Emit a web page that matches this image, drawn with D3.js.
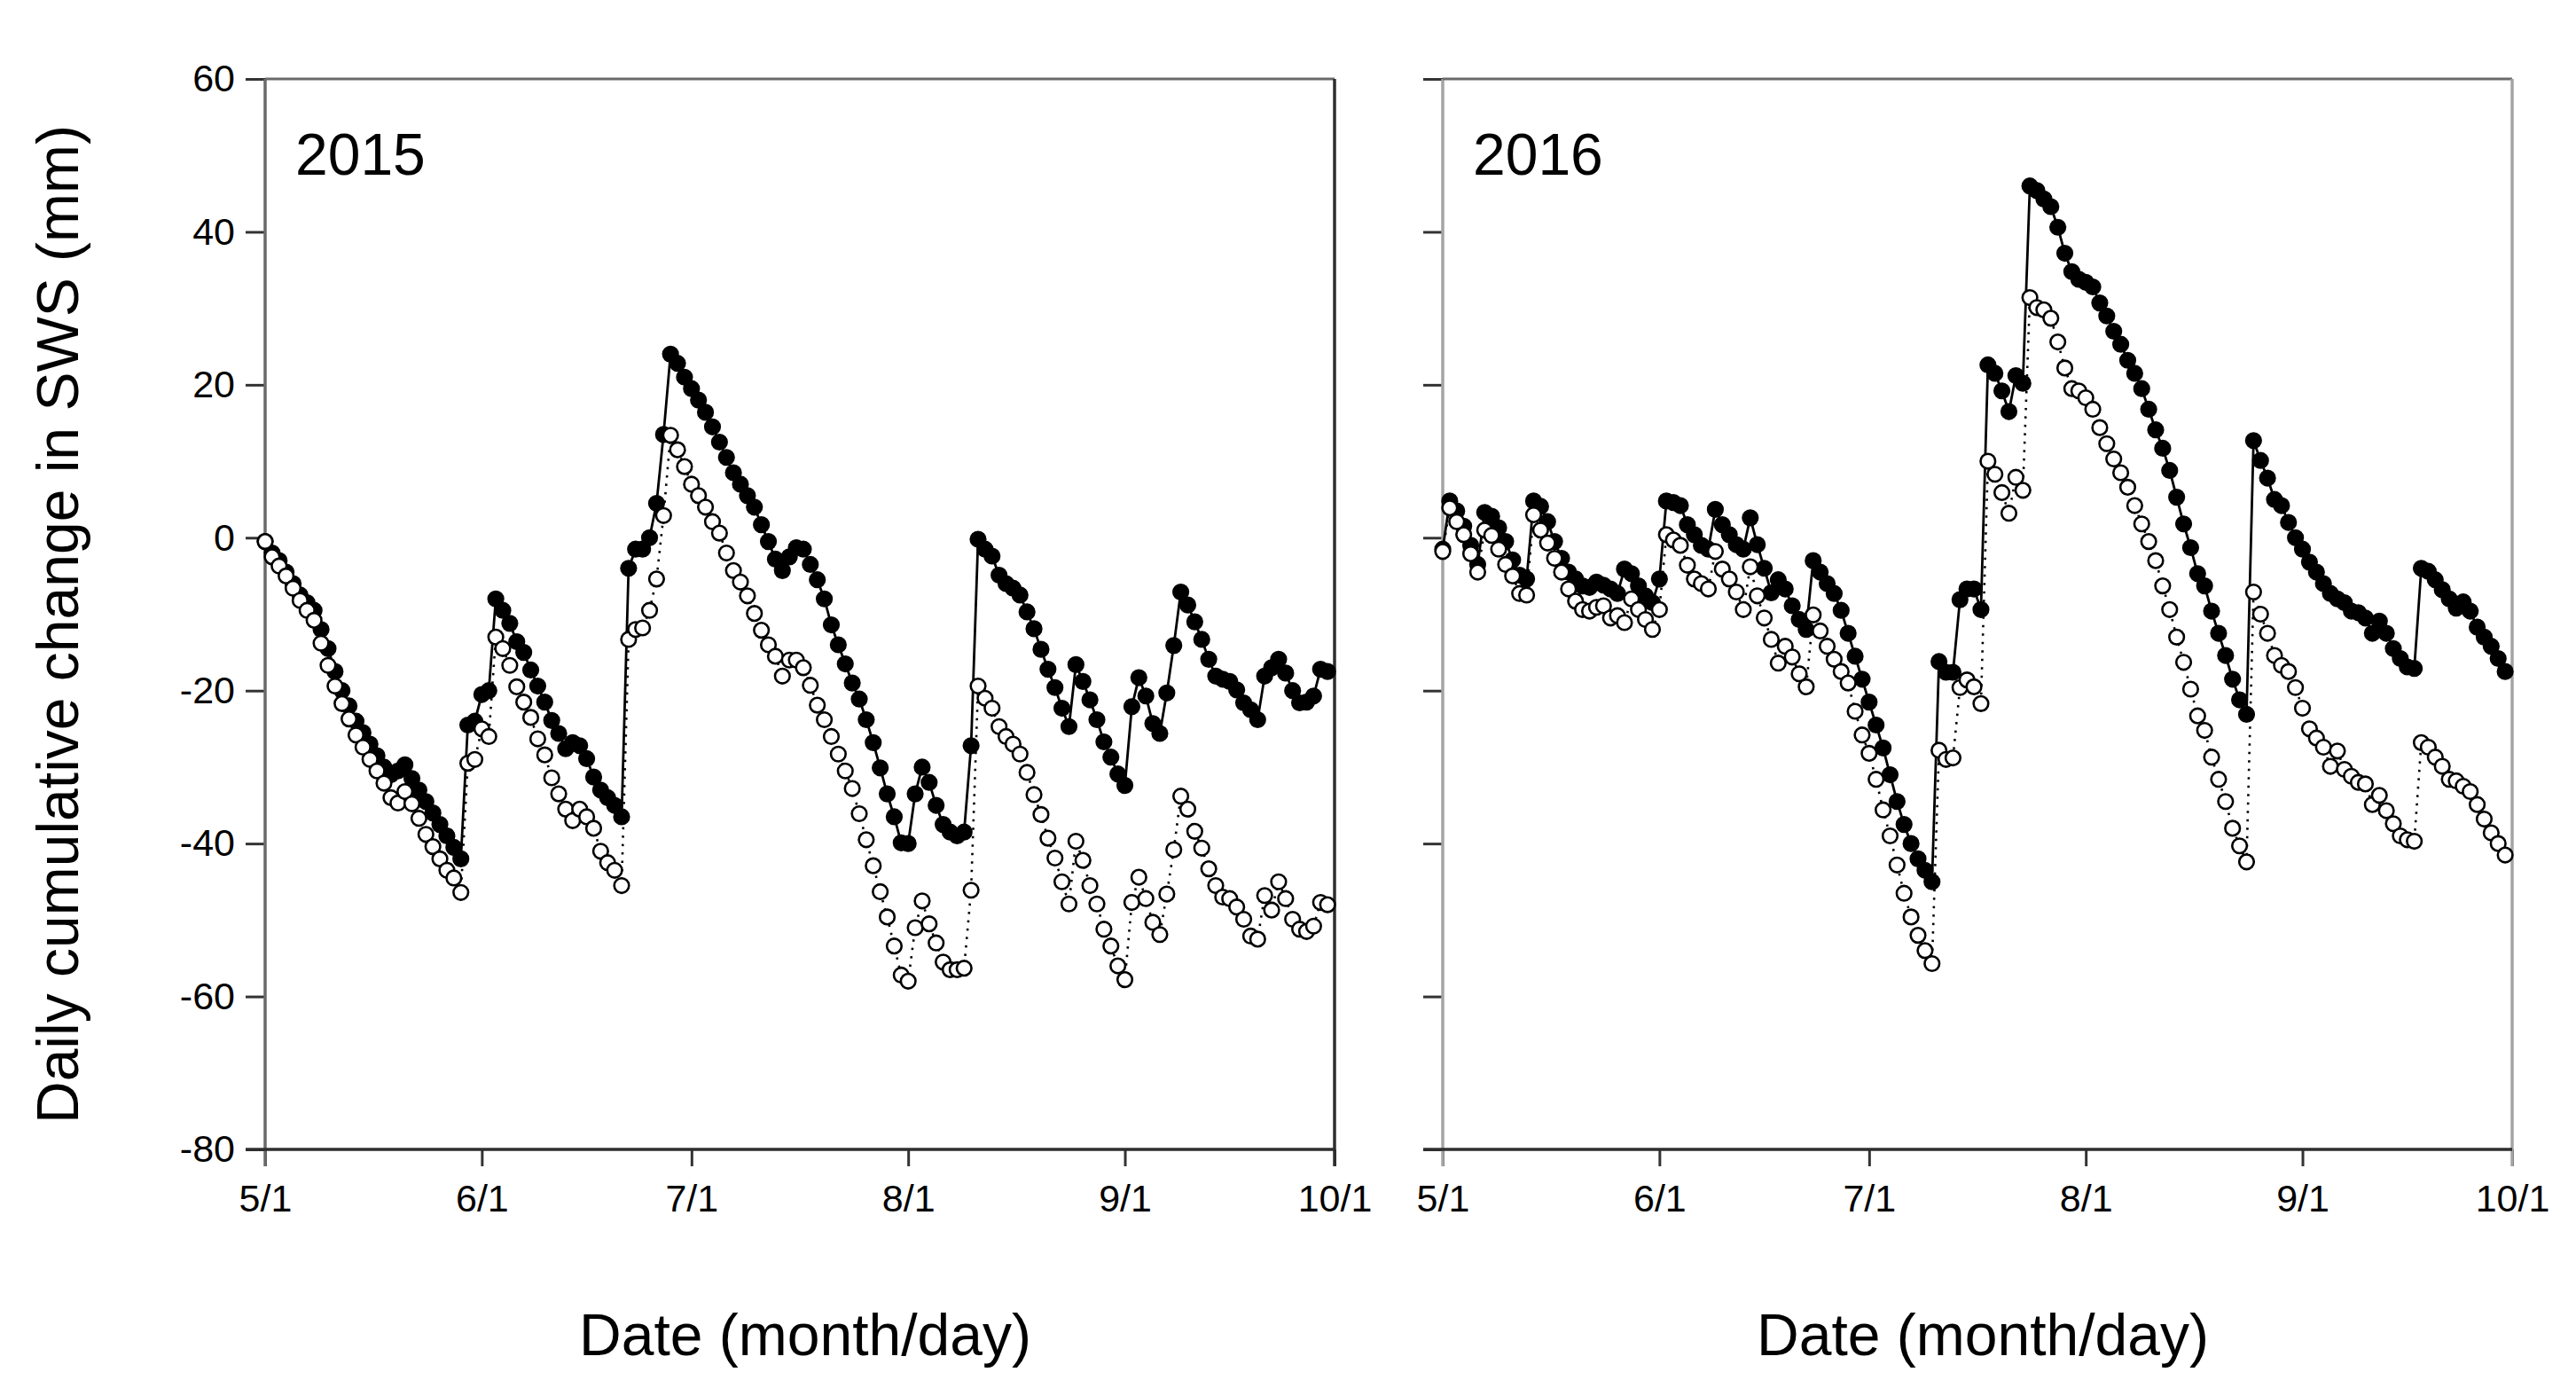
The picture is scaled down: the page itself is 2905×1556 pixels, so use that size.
<!DOCTYPE html>
<html><head><meta charset="utf-8">
<script src="https://cdn.jsdelivr.net/npm/d3@7"></script>
<style>html,body{margin:0;padding:0;background:#fff;} svg{display:block}</style>
</head><body>
<svg id="chart" width="2905" height="1556"></svg>
<script>
// Days counted from May 1 (0) to Sep 30 (152); 10/1 = 153
const tickDays = [0, 31, 61, 92, 123, 153];
const tickLabels = ["5/1", "6/1", "7/1", "8/1", "9/1", "10/1"];
const yTicks = [60, 40, 20, 0, -20, -40, -60, -80];
const yearLabels = ["2015", "2016"];
const yTitle = "Daily cumulative change in SWS (mm)";
const xTitle = "Date (month/day)";

const filled2015 = [
 -0.5,-2,-3,-4.5,-6,-7.5,-8.5,-9.5,-12,-14.5,
 -17.5,-20,-22,-24,-25.5,-27,-28.5,-30,-31,-30.5,
 -29.7,-31.5,-33,-34.5,-36,-37.5,-39,-40.5,-42,-24.5,
 -24,-20.5,-20,-8,-9.5,-11.2,-13.6,-15,-17.3,-19.4,
 -21.5,-23.9,-25.6,-27.6,-26.8,-27.2,-28.9,-31.3,-33,-34,
 -35,-36.5,-4,-1.5,-1.5,0,4.5,13.5,24,22.8,
 21,19.5,18,16.4,14.5,12.5,10.5,8.5,7,5.5,
 4,1.7,-0.5,-2.8,-4.3,-2.5,-1.3,-1.5,-3.5,-5.5,
 -8,-11.4,-14,-16.5,-19,-21.1,-23.8,-26.8,-30.1,-33.5,
 -36.5,-39.9,-40,-33.5,-30,-32,-35,-37.5,-38.5,-39,
 -38.5,-27.2,-0.2,-1.5,-2.4,-4.9,-6,-6.6,-7.5,-9.7,
 -11.9,-14.6,-17.2,-19.6,-22.3,-24.7,-16.6,-18.8,-21.2,-23.8,
 -26.7,-28.7,-30.9,-32.4,-22.1,-18.3,-20.7,-24.3,-25.6,-20.3,
 -14.1,-7.1,-8.8,-11,-13.3,-15.9,-18.1,-18.5,-18.8,-19.9,
 -21.6,-22.5,-23.8,-18.1,-17,-15.9,-17.7,-20,-21.6,-21.5,
 -20.7,-17.2,-17.5
];
const open2015 = [
 -0.5,-2.5,-3.7,-5,-6.6,-8.2,-9.5,-10.8,-13.8,-16.7,
 -19.4,-21.7,-23.7,-25.8,-27.4,-29,-30.5,-32.1,-34,-34.7,
 -33.2,-34.8,-36.7,-38.8,-40.4,-42,-43.5,-44.5,-46.4,-29.5,
 -29,-25,-26,-13,-14.5,-16.7,-19.5,-21.5,-23.5,-26.3,
 -28.4,-31.4,-33.5,-35.5,-37,-35.5,-36.5,-38,-41,-42.5,
 -43.5,-45.5,-13.3,-12,-11.8,-9.5,-5.4,2.9,13.4,11.5,
 9.3,7,5.5,4,2.1,0.6,-2,-4.3,-5.8,-7.6,
 -9.9,-12.1,-14,-15.5,-18.1,-16,-16,-17,-19.3,-21.9,
 -23.8,-26,-28.3,-30.5,-32.8,-36.1,-39.5,-42.9,-46.3,-49.6,
 -53.4,-57.2,-58,-51,-47.5,-50.5,-53,-55.5,-56.5,-56.5,
 -56.3,-46.1,-19.4,-21,-22.3,-24.7,-26,-27,-28.3,-30.7,
 -33.6,-36.2,-39.3,-41.9,-45,-47.9,-39.7,-42.2,-45.5,-47.9,
 -51.2,-53.4,-56,-57.8,-47.7,-44.4,-47.2,-50.3,-51.9,-46.6,
 -40.8,-33.8,-35.5,-38.4,-40.6,-43.3,-45.5,-47,-47.2,-48.3,
 -49.9,-52.1,-52.5,-46.8,-48.7,-45,-47.2,-49.9,-51.2,-51.5,
 -50.8,-47.7,-48
];
const filled2016 = [
 -1.5,4.8,3.5,1.5,-1,-3.5,3.3,2.8,1.3,-0.5,
 -2.9,-4.9,-5.4,4.8,4.1,2.1,-0.5,-2.7,-4.5,-5.4,
 -6.3,-6.5,-5.8,-6.2,-6.7,-7.3,-4.1,-4.7,-6.3,-7.6,
 -8.5,-5.4,4.8,4.6,4.2,1.7,0.4,-1,-1.5,3.7,
 1.7,0.4,-0.9,-1.5,2.6,-0.9,-4,-7.2,-5.5,-6.7,
 -8.9,-10.7,-12,-3,-4.5,-6,-7.3,-9.5,-12.5,-15.5,
 -18.5,-21.5,-24.5,-27.5,-31,-34.5,-37.5,-40,-42,-43.5,
 -45,-16.2,-17.6,-17.6,-8.1,-6.7,-6.7,-9.4,22.6,21.5,
 19.2,16.5,21.2,20.2,46,45.4,44.3,43.3,40.6,37.2,
 34.8,33.8,33.4,32.8,30.7,29,27,25.3,23.2,21.5,
 19.5,16.8,14.1,11.7,8.8,5.3,1.8,-1.3,-4.7,-6.3,
 -9.6,-12.5,-15.4,-18.5,-21.2,-23.1,12.7,10.1,7.8,5,
 4.2,2,0,-1.5,-3.2,-4.5,-6,-7.3,-8,-8.5,
 -9.6,-9.8,-10.5,-12.5,-10.9,-12.5,-14.5,-15.8,-16.9,-17.1,
 -4,-4.4,-5.5,-6.8,-8,-9.2,-8.4,-9.6,-11.7,-13,
 -14.2,-15.8,-17.5
];
const open2016 = [
 -1.8,3.9,2.1,0.4,-2.1,-4.5,1,0.3,-1.5,-3.5,
 -5,-7.3,-7.5,3,1,-0.7,-2.7,-4.5,-6.7,-8.3,
 -9.4,-9.6,-9.1,-8.9,-10.5,-10.2,-11.1,-8,-9.4,-10.7,
 -12,-9.4,0.4,-0.3,-1,-3.6,-5.4,-6,-6.7,-1.8,
 -4.1,-5.4,-7.1,-9.4,-3.8,-7.6,-10.5,-13.3,-16.4,-14.2,
 -15.6,-17.8,-19.5,-10.1,-12.2,-14.2,-15.9,-17.5,-19,-22.7,
 -25.8,-28.2,-31.6,-35.6,-39,-42.8,-46.5,-49.6,-52,-54,
 -55.7,-27.8,-29,-28.8,-19.6,-18.6,-19.5,-21.7,10,8.3,
 5.9,3.2,7.9,6.2,31.4,30.1,29.8,28.7,25.6,22.2,
 19.5,19.2,18.3,16.8,14.4,12.3,10.3,8.5,6.6,4.2,
 1.8,-0.5,-3,-6.3,-9.4,-13,-16.3,-19.8,-23.3,-25.2,
 -28.7,-31.6,-34.5,-38,-40.3,-42.4,-7.1,-10,-12.5,-15.4,
 -16.7,-17.5,-19.6,-22.3,-25,-26.2,-27.4,-29.9,-27.9,-30.3,
 -31.2,-32,-32.2,-34.9,-33.7,-35.7,-37.4,-39,-39.5,-39.7,
 -26.8,-27.4,-28.7,-29.9,-31.6,-31.8,-32.5,-33.2,-34.9,-36.8,
 -38.6,-40,-41.5
];

const FONT = "'Liberation Sans', Arial, Helvetica, sans-serif";
const TOP = 89, BOTTOM = 1296;
const panels = [
  {year: yearLabels[0], filled: filled2015, open: open2015, left: 299, right: 1505, yLabels: true,
   colL: "#6a6a6a", colR: "#2e2e2e"},
  {year: yearLabels[1], filled: filled2016, open: open2016, left: 1627, right: 2833, yLabels: false,
   colL: "#a4a4a4", colR: "#a4a4a4"}
];

const svg = d3.select("#chart");
svg.append("rect").attr("width", 2905).attr("height", 1556).attr("fill", "#fff");

panels.forEach(p => {
  const x = d3.scaleLinear().domain([0, 153]).range([p.left, p.right]);
  const y = d3.scaleLinear().domain([-80, 60]).range([BOTTOM, TOP]);
  const g = svg.append("g");

  const ya = g.append("g").attr("transform", `translate(${p.left},0)`)
    .call(d3.axisLeft(y).tickValues(yTicks).tickSize(22).tickPadding(12)
      .tickFormat(d => p.yLabels ? String(d) : ""));
  ya.select(".domain").remove();
  ya.selectAll(".tick line").attr("stroke", "#333").attr("stroke-width", 3);
  ya.selectAll(".tick text").attr("font-family", FONT).attr("font-size", 43).attr("fill", "#000");

  const xa = g.append("g").attr("transform", `translate(0,${BOTTOM})`)
    .call(d3.axisBottom(x).tickValues(tickDays).tickSize(19).tickPadding(20)
      .tickFormat((d, i) => tickLabels[i]));
  xa.select(".domain").remove();
  xa.selectAll(".tick line").attr("stroke", "#333").attr("stroke-width", 3);
  xa.selectAll(".tick text").attr("font-family", FONT).attr("font-size", 43).attr("fill", "#000");

  const [x0, x1] = x.range();
  g.append("line").attr("x1", x0).attr("x2", x0).attr("y1", TOP).attr("y2", BOTTOM + 19)
    .attr("stroke", p.colL).attr("stroke-width", 3.5);
  g.append("line").attr("x1", x0).attr("x2", x1).attr("y1", TOP).attr("y2", TOP)
    .attr("stroke", "#6a6a6a").attr("stroke-width", 3);
  g.append("line").attr("x1", x1).attr("x2", x1).attr("y1", TOP).attr("y2", BOTTOM + 19)
    .attr("stroke", p.colR).attr("stroke-width", 3.5);
  g.append("line").attr("x1", x0 - 22).attr("x2", x1).attr("y1", BOTTOM).attr("y2", BOTTOM)
    .attr("stroke", "#2e2e2e").attr("stroke-width", 3.5);

  const line = d3.line().x((d, i) => x(i)).y(d => y(d));

  g.append("path").datum(p.filled).attr("d", line)
    .attr("fill", "none").attr("stroke", "#000").attr("stroke-width", 2.8);
  g.append("path").datum(p.open).attr("d", line)
    .attr("fill", "none").attr("stroke", "#000").attr("stroke-width", 2.6)
    .attr("stroke-dasharray", "2.5,7");

  g.append("g").selectAll("circle").data(p.filled).join("circle")
    .attr("cx", (d, i) => x(i)).attr("cy", d => y(d)).attr("r", 8.3)
    .attr("fill", "#000").attr("stroke", "#000").attr("stroke-width", 2.6);
  g.append("g").selectAll("circle").data(p.open).join("circle")
    .attr("cx", (d, i) => x(i)).attr("cy", d => y(d)).attr("r", 8.3)
    .attr("fill", "#fff").attr("stroke", "#000").attr("stroke-width", 2.6);

  g.append("text").attr("x", x0 + 34).attr("y", 197).text(p.year)
    .attr("font-family", FONT).attr("font-size", 66).attr("fill", "#000");

  g.append("text").attr("x", (x0 + x1) / 2 + 6).attr("y", 1528).text(xTitle)
    .attr("text-anchor", "middle").attr("font-family", FONT).attr("font-size", 66).attr("fill", "#000");
});

svg.append("text").attr("transform", "translate(88,704) rotate(-90)").text(yTitle)
  .attr("text-anchor", "middle").attr("font-family", FONT).attr("font-size", 66).attr("fill", "#000");
</script>
</body></html>
